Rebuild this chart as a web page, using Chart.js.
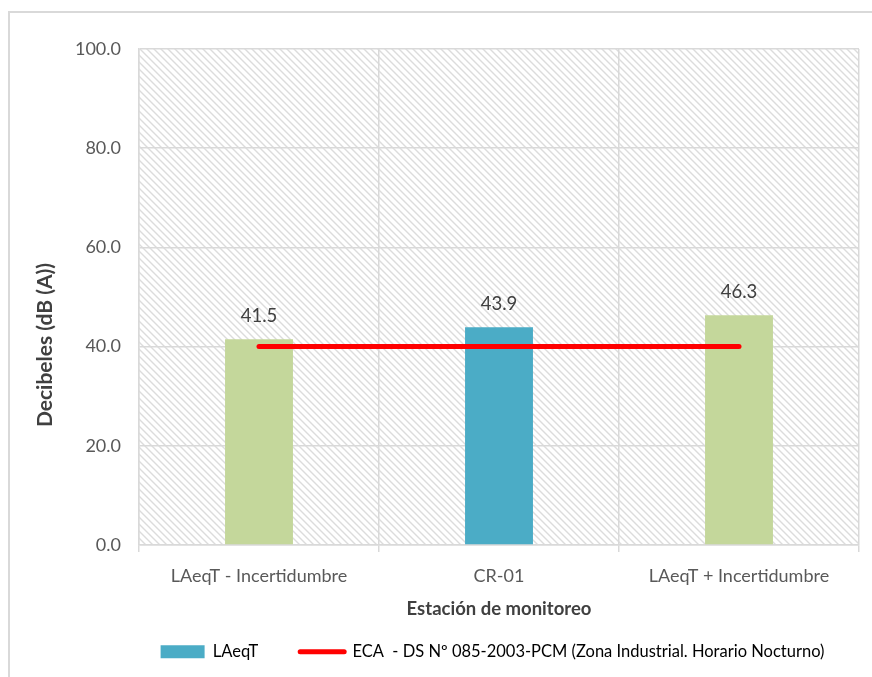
<!DOCTYPE html>
<html>
<head>
<meta charset="utf-8">
<script src="https://cdn.jsdelivr.net/npm/chart.js@4/dist/chart.umd.min.js"></script>
<style>
  html, body { margin: 0; padding: 0; background: #fff; overflow: hidden; }
  #wrap { position: relative; width: 872px; height: 677px; }
  #frame {
    position: absolute; left: 8px; top: 11px; width: 900px; height: 700px;
    border: 2px solid #d9d9d9;
  }
  #chart { position: absolute; left: 0; top: 0; }
</style>
</head>
<body>
<div id="wrap">
  <div id="frame"></div>
  <canvas id="chart" width="872" height="677"></canvas>
</div>
<script>
// Stations and measured levels
const stations = ["LAeqT - Incertidumbre", "CR-01", "LAeqT + Incertidumbre"];
const laeqValues = [41.5, 43.9, 46.3];
const ecaLimit = [40, 40, 40];
const barColors = ["#c4d79b", "#4bacc6", "#c4d79b"];
const yTicks = [0, 20, 40, 60, 80, 100];
const yTitle = "Decibeles (dB (A))";

const FONT = "Lato, 'Liberation Sans', sans-serif";
const PAD_BOTTOM = 7;
const PLOT_BOTTOM = 545;
const LEGEND_SHIFT = 63;

// diagonal hatch for the plot background
function makeHatch() {
    const s = 7;
    const c = document.createElement("canvas");
    c.width = s;
    c.height = s;
    const g = c.getContext("2d");
    g.fillStyle = "#ffffff";
    g.fillRect(0, 0, s, s);
    g.strokeStyle = "#dcdcdc";
    g.lineWidth = 1.4;
    g.beginPath();
    g.moveTo(-2, -2); g.lineTo(s + 2, s + 2);
    g.moveTo(-2, s - 2); g.lineTo(2, s + 2);
    g.moveTo(s - 2, -2); g.lineTo(s + 2, 2);
    g.stroke();
    return g.createPattern(c, "repeat");
}

const hatchBackground = {
    id: "hatchBackground",
    beforeDraw(chart) {
        const a = chart.chartArea;
        const ctx = chart.ctx;
        ctx.save();
        ctx.fillStyle = makeHatch();
        ctx.fillRect(a.left, a.top, a.right - a.left, a.bottom - a.top);
        ctx.restore();
    }
};

// legend sits under the plot rather than the whole canvas;
// y title is centred on the full chart height
const sideLayout = {
    id: "sideLayout",
    afterLayout(chart) {
        chart.legend.left += LEGEND_SHIFT;
        chart.legend.right += LEGEND_SHIFT;
    },
    afterDraw(chart) {
        const ctx = chart.ctx;
        ctx.save();
        ctx.translate(45, 345);
        ctx.rotate(-Math.PI / 2);
        ctx.font = "bold 21px " + FONT;
        ctx.fillStyle = "#404040";
        ctx.textAlign = "center";
        ctx.textBaseline = "middle";
        ctx.fillText(yTitle, 0, 0);
        ctx.restore();
    }
};

// value labels above the bars
const barLabels = {
    id: "barLabels",
    afterDatasetsDraw(chart) {
        const ctx = chart.ctx;
        const meta = chart.getDatasetMeta(0);
        ctx.save();
        ctx.font = "18.5px " + FONT;
        ctx.fillStyle = "#404040";
        ctx.textAlign = "center";
        ctx.textBaseline = "middle";
        meta.data.forEach((bar, i) => {
            ctx.fillText(laeqValues[i].toFixed(1), bar.x, bar.y - 23);
        });
        ctx.restore();
    }
};

const ctx = document.getElementById("chart").getContext("2d");
new Chart(ctx, {
    data: {
        labels: stations,
        datasets: [
            {
                type: "bar",
                label: "LAeqT",
                data: laeqValues,
                backgroundColor: barColors,
                categoryPercentage: 1,
                barPercentage: 0.283,
                order: 1
            },
            {
                type: "line",
                label: "ECA  - DS Nº 085-2003-PCM (Zona Industrial. Horario Nocturno)",
                data: ecaLimit,
                borderColor: "#ff0000",
                borderWidth: 5,
                borderCapStyle: "round",
                pointRadius: 0,
                fill: false,
                order: 0
            }
        ]
    },
    options: {
        responsive: false,
        animation: false,
        layout: { padding: { top: 49, right: 13, left: 0, bottom: PAD_BOTTOM } },
        plugins: {
            tooltip: { enabled: false },
            legend: {
                position: "bottom",
                labels: {
                    usePointStyle: true,
                    pointStyleWidth: 44,
                    boxHeight: 13,
                    padding: 42,
                    color: "#595959",
                    font: { family: FONT, size: 16.5 },
                    generateLabels() {
                        return [
                            {
                                text: "LAeqT",
                                fillStyle: "#4bacc6",
                                strokeStyle: "#4bacc6",
                                lineWidth: 0,
                                pointStyle: "rect",
                                datasetIndex: 0
                            },
                            {
                                text: "ECA  - DS Nº 085-2003-PCM (Zona Industrial. Horario Nocturno)",
                                fillStyle: "#ff0000",
                                strokeStyle: "#ff0000",
                                lineWidth: 5,
                                lineCap: "round",
                                pointStyle: "line",
                                datasetIndex: 1
                            }
                        ];
                    }
                }
            }
        },
        scales: {
            x: {
                afterFit(scale) {
                    const lg = scale.chart.legend;
                    scale.height = scale.chart.height - PAD_BOTTOM - lg.height - PLOT_BOTTOM;
                },
                grid: {
                    offset: true,
                    color: "#d9d9d9",
                    lineWidth: 1.5,
                    tickLength: 7
                },
                border: { color: "#d9d9d9", width: 1.5 },
                ticks: {
                    color: "#595959",
                    font: { family: FONT, size: 18 },
                    padding: 13,
                    maxRotation: 0
                },
                title: {
                    display: true,
                    text: "Estación de monitoreo",
                    color: "#404040",
                    font: { family: FONT, size: 18.5, weight: "bold" },
                    padding: { top: 0, bottom: -19 }
                }
            },
            y: {
                min: 0,
                max: 100,
                afterBuildTicks(scale) {
                    scale.ticks = yTicks.map(v => ({ value: v }));
                },
                afterFit(scale) {
                    scale.width = 139;
                },
                grid: {
                    color: "#d9d9d9",
                    lineWidth: 1.5,
                    drawTicks: false
                },
                border: { color: "#d9d9d9", width: 1.5 },
                ticks: {
                    color: "#595959",
                    font: { family: FONT, size: 18 },
                    padding: 18,
                    callback: v => v.toFixed(1)
                }
            }
        }
    },
    plugins: [hatchBackground, barLabels, sideLayout]
});
</script>
</body>
</html>
